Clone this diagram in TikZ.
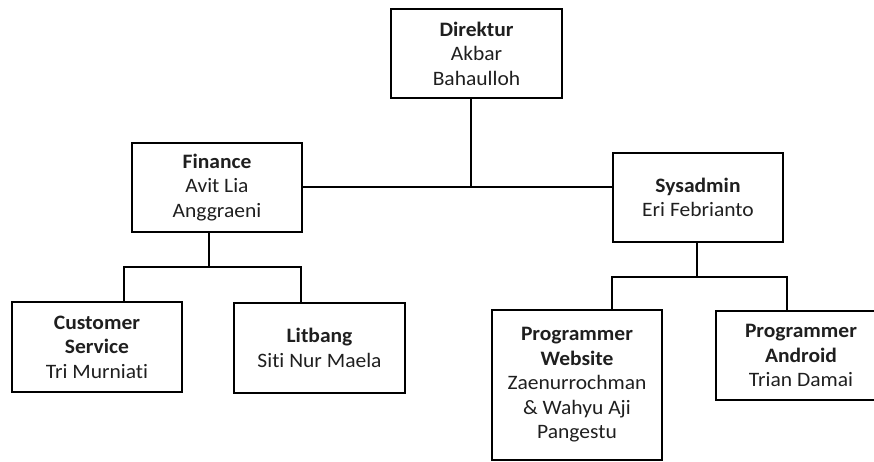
\documentclass[tikz,border=0pt]{standalone}
\usepackage{fontspec}
\setmainfont{Carlito}[FakeStretch=1.05, Ligatures={NoCommon}]
\begin{document}
\begin{tikzpicture}[x=1pt,y=-1pt,
  box/.style={draw=black, line width=1.4pt, align=center, inner sep=0pt,
    minimum width=170pt, minimum height=89pt,
    font=\fontsize{20.5}{24.5}\selectfont, text=black!88},
  link/.style={draw=black, line width=1.2pt}]
\useasboundingbox (0,0) rectangle (874,461);
% boxes
\node[box, minimum width=171pt] (dir) at (476.5,53.5) {\textbf{Direktur}\\Akbar\\Bahaulloh};
\node[box] (fin) at (217,187.5) {\textbf{Finance}\\Avit Lia\\Anggraeni};
\node[box] (sys) at (698,197.5) {\textbf{Sysadmin}\\Eri Febrianto};
\node[box, minimum height=90pt] (cs) at (97,347) {\textbf{Customer}\\\textbf{Service}\\Tri Murniati};
\node[box, minimum width=171pt, minimum height=90pt] (lit) at (319.5,348) {\textbf{Litbang}\\Siti Nur Maela};
\node[box, minimum height=150pt] (pw) at (577,385) {\textbf{Programmer}\\\textbf{Website}\\Zaenurrochman\\\& Wahyu Aji\\Pangestu};
\node[box] (pa) at (801,355.5) {\textbf{Programmer}\\\textbf{Android}\\Trian Damai};
% junctions
\coordinate (j1) at (471,187);
\coordinate (j2) at (209,267);
\coordinate (j3) at (697,277);
\coordinate (csx) at (124,0);
\coordinate (litx) at (301,0);
\coordinate (pwx) at (612,0);
\coordinate (pax) at (787,0);
% connectors
\draw[link] (dir.south -| j1) -- (j1);
\draw[link] (fin.east |- j1) -- (sys.west |- j1);
\draw[link] (fin.south -| j2) -- (j2);
\draw[link] (cs.north -| csx) -- (csx |- j2) -- (litx |- j2) -- (lit.north -| litx);
\draw[link] (sys.south -| j3) -- (j3);
\draw[link] (pw.north -| pwx) -- (pwx |- j3) -- (pax |- j3) -- (pa.north -| pax);
\end{tikzpicture}
\end{document}
